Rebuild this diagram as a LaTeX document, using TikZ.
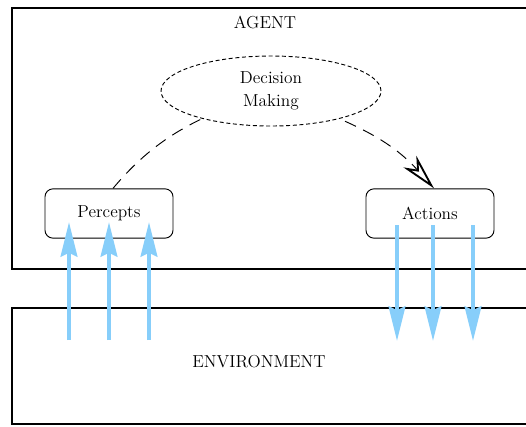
\documentclass[tikz,border=0pt]{standalone}
\usepackage{tikz}
\usetikzlibrary{arrows.meta,shapes.geometric}
\definecolor{skyBlue}{HTML}{87CEFA}
\tikzset{
  every node/.style={font=\fontsize{13}{17}\selectfont},
  frameBox/.style={draw, line width=1.5pt, anchor=north west, inner sep=0pt},
  roundBox/.style={draw, rounded corners=6pt, line width=0.7pt, minimum width=96pt, minimum height=37pt},
  arcLine/.style={dash pattern=on 9pt off 6pt, line width=0.7pt},
  senseArrow/.style={draw=skyBlue, line width=3pt, -{Stealth[length=26pt, width=12.5pt, inset=3pt]}},
}

\begin{document}
\begin{tikzpicture}[x=0.75pt, y=-0.75pt]
  \path[use as bounding box] (0,0) rectangle (526,426);
  \clip (0,0) rectangle (526,426);
  %boxes
  \node[frameBox, minimum width=400pt, minimum height=195.75pt] (agent) at (11,7) {};
  \node[frameBox, minimum width=400pt, minimum height=87pt] (env) at (11,307) {};
  \node (agentLabel) at (265,22) {AGENT};
  \node (envLabel) at (259,362) {ENVIRONMENT};
  %inner nodes
  \node[roundBox] (percepts) at (109,213.5) {Percepts};
  \node[roundBox] (actions) at (430,213.5) {Actions};
  %arc
  \draw[arcLine] ([xshift=3pt]percepts.north) to[out=50, in=200] (271,91);
  \draw[arcLine, -{Stealth[open, length=27pt, width=13pt, inset=8pt, line width=1.4pt]}]
    (271,91) to[out=-22, in=132] ([xshift=3pt]actions.north);
  \node[ellipse, draw, fill=white, dash pattern=on 3pt off 2pt, line width=0.7pt,
        minimum width=165pt, minimum height=52.5pt, inner sep=0pt, align=center]
    (decision) at (271,91) {Decision\\Making};
  %sensing
  \foreach \px [count=\i] in {69,109,149} {
    \coordinate (envIn\i) at (\px,340);
    \coordinate (percIn\i) at (\px,222);
    \draw[senseArrow] (envIn\i) -- (percIn\i);
  }
  %acting
  \foreach \px [count=\i] in {397,433,473} {
    \coordinate (actOut\i) at (\px,225);
    \coordinate (envOut\i) at (\px,341);
    \draw[senseArrow] (actOut\i) -- (envOut\i);
  }
\end{tikzpicture}
\end{document}
